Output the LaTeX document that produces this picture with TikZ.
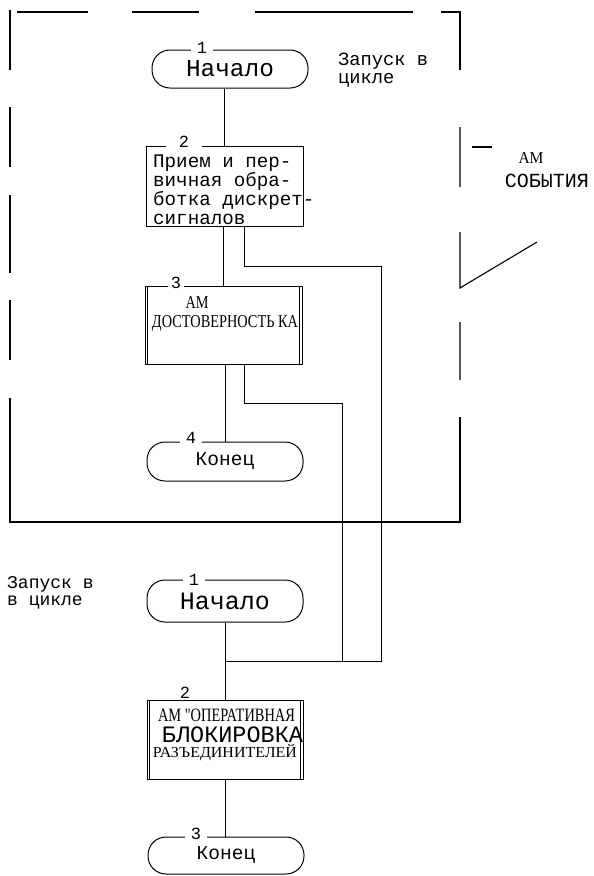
\documentclass[tikz,border=0pt]{standalone}
\usepackage{fontspec}
\usepackage{graphicx}
\setmainfont{Liberation Serif}
\newfontfamily\mono{Liberation Mono}
\newfontfamily\serif{Liberation Serif}
\tikzset{
  term/.style={draw, line width=1pt, rounded corners=18pt, minimum width=156pt, inner sep=0pt},
  proc/.style={draw, line width=1pt, minimum width=157pt, inner sep=0pt},
  num/.style={fill=white, inner ysep=1pt, inner xsep=6pt, font=\mono\fontsize{17}{17}\selectfont},
  lbl/.style={inner sep=0pt},
  link/.style={line width=0.8pt},
  frame/.style={line width=1.1pt},
}
\begin{document}
\begin{tikzpicture}[x=1pt,y=-1pt]
\useasboundingbox (0,0) rectangle (594,876);

% dashed frame
\draw[frame] (17,12) -- (88,12) (132,12) -- (199,12) (255,12) -- (413,12)
  (441,12) -- (460,12) -- (460,70);
\draw[frame] (10,10) -- (10,70) (10,107) -- (10,167) (10,195) -- (10,273)
  (10,300) -- (10,360) (10,398) -- (10,522) -- (460,522) -- (460,417);
\draw[frame] (460,380) -- (460,322) (460,127) -- (460,187) (460,232) -- (460,288) -- (537,242);
\draw[frame] (472,147) -- (492,147);

% side labels
\node[lbl, anchor=west, align=left, font=\mono\fontsize{18.75}{18}\selectfont] (l1) at (338,70) {Запуск в\\цикле};
\node[lbl] (am1) at (531,158) {\resizebox{25pt}{11pt}{\serif АМ}};
\node[lbl, font=\mono\fontsize{20}{20}\selectfont] (ev) at (547,181) {СОБЫТИЯ};
\node[lbl, anchor=west, align=left, font=\mono\fontsize{18}{16.5}\selectfont] (l2) at (7,593) {Запуск в\\в цикле};

% upper chart
\node[term, minimum height=38pt, font=\mono\fontsize{24.4}{24}\selectfont] (t1) at (230,69) {Начало};
\node[num] (n1) at (202,48) {1};

\node[proc, minimum height=80pt] (b2) at (224.5,186) {};
\node[num, inner xsep=13pt] (n2) at (184,142) {2};
\node[lbl, font=\mono\fontsize{19.2}{19}\selectfont, align=left, anchor=west] (b2t) at (153,190) {Прием и пер-\\вичная обра-\\ботка дискрет-\\сигналов};

\node[proc, minimum height=78pt] (b3) at (223.5,325) {};
\node[num, inner xsep=3pt] (n3) at (176,283) {3};
\node[lbl] (b3a) at (197,302) {\resizebox{23pt}{12pt}{\serif АМ}};
\node[lbl] (b3b) at (225,323) {\resizebox{146pt}{12pt}{\serif ДОСТОВЕРНОСТЬ КА}};
\draw[line width=1pt] ([xshift=3pt]b3.north west) -- ([xshift=3pt]b3.south west)
  ([xshift=-3pt]b3.north east) -- ([xshift=-3pt]b3.south east);

\node[term, minimum height=39pt, font=\mono\fontsize{19.5}{19}\selectfont] (t4) at (225,461.5) {Конец};
\node[num] (n4) at (191,438) {4};

% lower chart
\node[term, minimum height=42pt, font=\mono\fontsize{25}{25}\selectfont] (t1b) at (225,601) {Начало};
\node[num] (m1) at (194,580) {1};

\node[proc, minimum width=156pt, minimum height=79pt] (b2b) at (225,739.5) {};
\node[num, inner xsep=11pt] (m2) at (185,693) {2};
\draw[line width=1pt] ([xshift=3pt]b2b.north west) -- ([xshift=3pt]b2b.south west)
  ([xshift=-3pt]b2b.north east) -- ([xshift=-3pt]b2b.south east);
\node[lbl] (b2ba) at (226.5,715) {\resizebox{137pt}{12.5pt}{\serif АМ "ОПЕРАТИВНАЯ}};
\node[lbl, font=\mono\fontsize{23.5}{23.5}\selectfont] (b2bb) at (232.5,735) {БЛОКИРОВКА};
\node[lbl] (b2bc) at (225,753) {\resizebox{144pt}{13pt}{\serif РАЗЪЕДИНИТЕЛЕЙ}};

\node[term, minimum height=37pt, font=\mono\fontsize{19.5}{19}\selectfont] (t3b) at (226,855.5) {Конец};
\node[num] (m3) at (196,834) {3};

% connectors
\coordinate (c1) at (381,266);
\coordinate (c2) at (342,403);
\coordinate (j) at (225,661);
\draw[link] (t1.south -| b2.north) -- (b2.north);
\draw[link] (b2.south -| b3.north) -- (b3.north);
\draw[link] (b3.south -| t4.north) -- (t4.north);
\draw[link] ([xshift=19.5pt]b2.south) |- (c1) |- (j);
\draw[link] ([xshift=20.5pt]b3.south) |- (c2) -- (c2 |- j);
\draw[link] (t1b.south) -- (b2b.north);
\draw[link] (b2b.south) -- (b2b.south |- t3b.north);
\end{tikzpicture}
\end{document}
